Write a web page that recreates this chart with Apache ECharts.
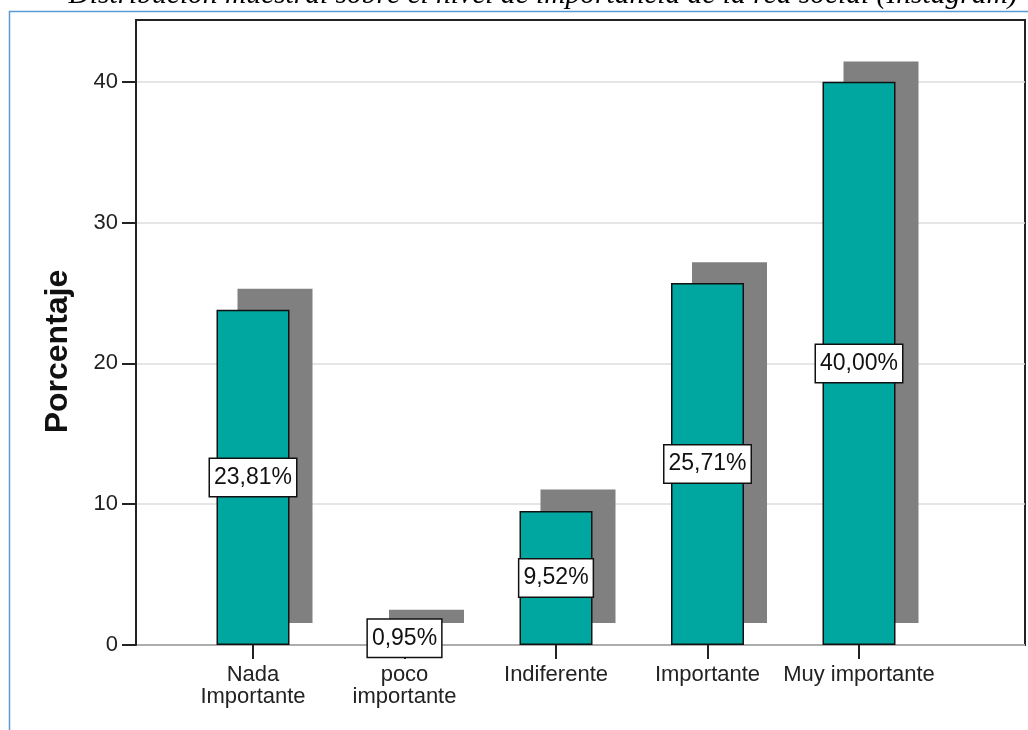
<!DOCTYPE html>
<html>
<head>
<meta charset="utf-8">
<script src="https://cdn.jsdelivr.net/npm/echarts@6/dist/echarts.min.js"></script>
<style>
  html, body { margin: 0; padding: 0; background: #ffffff; }
  #chart { width: 1028px; height: 730px; }
</style>
</head>
<body>
<div id="chart"></div>
<script>
// Categories, values and tick labels of the chart
const categories = ['Nada\nImportante', 'poco\nimportante', 'Indiferente', 'Importante', 'Muy importante'];
const percentages = [23.81, 0.95, 9.52, 25.71, 40.00];
const yTicks = [0, 10, 20, 30, 40];
const yAxisTitle = 'Porcentaje';
const chartTitle = 'Distribución muestral sobre el nivel de importancia de la red social (Instagram)';

// Layout
const Y_MAX = 44.39;
const PLOT = { left: 136, top: 20, width: 889, height: 625 };
const BAND = { left: 177.25, width: 757.5 };
const SHADOW = { dx: 22, dy: -22 };
const SANS = '"Liberation Sans", Arial, sans-serif';

const fmtPct = v => v.toFixed(2).replace('.', ',') + '%';

const chart = echarts.init(document.getElementById('chart'), null, { renderer: 'canvas' });

chart.setOption({
  animation: false,
  backgroundColor: '#ffffff',
  graphic: [
    { // page frame
      type: 'rect', z: 0,
      shape: { x: 9.5, y: 11.5, width: 1040, height: 740 },
      style: { fill: 'none', stroke: '#5b9bd5', lineWidth: 1.5 }
    },
    { // caption above the plot
      type: 'text', x: 543, y: 10, z: 10,
      style: {
        text: chartTitle, textAlign: 'center', textVerticalAlign: 'bottom',
        font: 'italic 29.5px "Liberation Serif", "Times New Roman", serif', fill: '#000'
      }
    },
    { // y axis title
      type: 'text', x: 58, y: 351.5, rotation: Math.PI / 2, z: 10,
      style: {
        text: yAxisTitle, textAlign: 'center', textVerticalAlign: 'middle',
        font: 'bold 32px ' + SANS, fill: '#111'
      }
    }
  ],
  grid: [
    { left: PLOT.left, top: PLOT.top, width: PLOT.width, height: PLOT.height,
      show: true, borderColor: '#222', borderWidth: 2, backgroundColor: 'transparent' },
    { left: BAND.left, top: PLOT.top, width: BAND.width, height: PLOT.height },
    { left: BAND.left + SHADOW.dx, top: PLOT.top + SHADOW.dy, width: BAND.width, height: PLOT.height }
  ],
  xAxis: [
    { gridIndex: 0, type: 'value', min: 0, max: 1, show: false },
    { gridIndex: 1, type: 'category', data: categories,
      axisLine: { show: false },
      axisTick: { show: true, alignWithLabel: true, length: 14, lineStyle: { color: '#222', width: 2 } },
      axisLabel: { interval: 0, margin: 19, fontSize: 22, lineHeight: 22, color: '#222', fontFamily: SANS } },
    { gridIndex: 2, type: 'category', data: categories, show: false }
  ],
  yAxis: [
    { gridIndex: 0, type: 'value', min: 0, max: Y_MAX, interval: 10,
      axisLine: { show: true, lineStyle: { color: '#222', width: 2 } },
      axisTick: { show: true, length: 14, customValues: yTicks, lineStyle: { color: '#222', width: 2 } },
      axisLabel: { customValues: yTicks, margin: 18, fontSize: 22, color: '#222', fontFamily: SANS },
      splitLine: { show: true, lineStyle: { color: '#dcdcdc', width: 1.5 } } },
    { gridIndex: 1, type: 'value', min: 0, max: Y_MAX, show: false, splitLine: { show: false } },
    { gridIndex: 2, type: 'value', min: 0, max: Y_MAX, show: false, splitLine: { show: false } }
  ],
  series: [
    { // drop shadow behind each bar
      type: 'bar', xAxisIndex: 2, yAxisIndex: 2, data: percentages,
      barWidth: 75, silent: true, z: 1,
      itemStyle: { color: '#808080' }
    },
    { // bars with value labels
      type: 'bar', xAxisIndex: 1, yAxisIndex: 1, data: percentages,
      barWidth: 73, z: 3,
      itemStyle: { color: '#00a6a0', borderColor: '#111', borderWidth: 1.5 },
      label: {
        show: true, position: 'inside',
        formatter: p => fmtPct(p.value),
        fontSize: 23, lineHeight: 26, color: '#111', fontFamily: SANS,
        backgroundColor: '#ffffff', borderColor: '#111', borderWidth: 1.5,
        padding: [6, 4, 5, 4]
      }
    }
  ]
});
</script>
</body>
</html>
